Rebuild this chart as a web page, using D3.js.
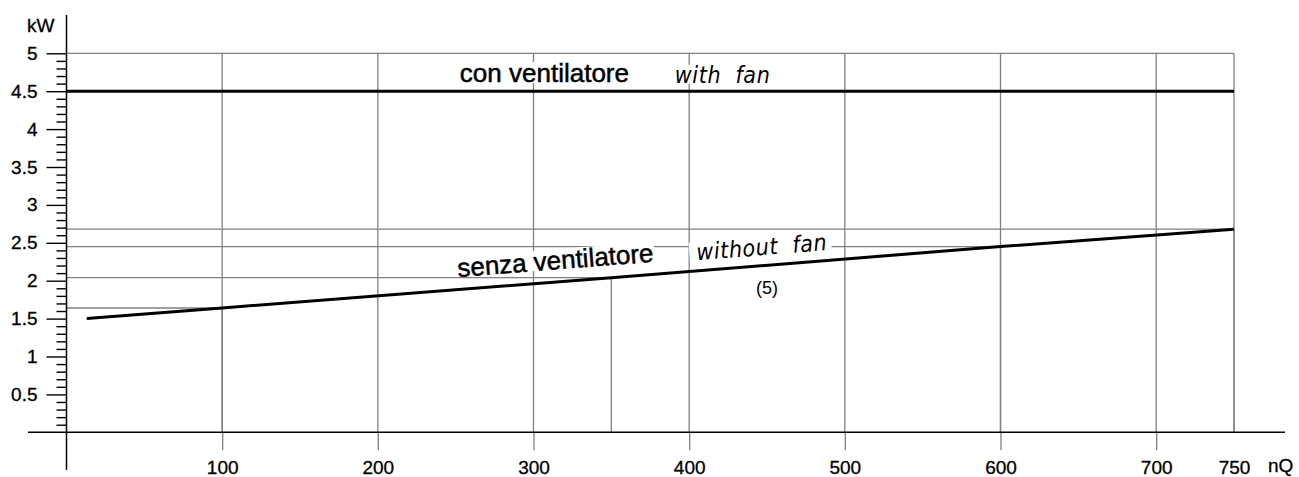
<!DOCTYPE html>
<html>
<head>
<meta charset="utf-8">
<script src="https://cdn.jsdelivr.net/npm/d3@7"></script>
<style>
  body { margin: 0; background: #fff; }
  svg { display: block; }
</style>
</head>
<body>
<script>
// tick labels
const xTicks = [100, 200, 300, 400, 500, 600, 700, 750];
const yTicks = [0.5, 1, 1.5, 2, 2.5, 3, 3.5, 4, 4.5, 5];

// series (nQ, kW)
const withFan = [[0, 4.5], [750, 4.5]];
const withoutFan = [[13, 1.5], [100, 1.64], [350, 2.04], [600, 2.45], [750, 2.68]];

// points of the "without fan" line that get reference lines
const refNQ = [100, 350, 600, 750];

const width = 1299, height = 477;
const sans = "'Liberation Sans', Arial, sans-serif";

const svg = d3.select("body").append("svg")
  .attr("width", width)
  .attr("height", height)
  .attr("font-family", sans);

const x = d3.scaleLinear().domain([0, 750]).range([66.5, 1234]);
const y = d3.scaleLinear().domain([0, 5]).range([432.3, 53.3]);

const grey = "#808080";

//Vertical grid lines
svg.append("g")
  .selectAll("line")
  .data(xTicks)
  .join("line")
    .attr("x1", d => x(d)).attr("x2", d => x(d))
    .attr("y1", y(5)).attr("y2", y(0))
    .attr("stroke", grey).attr("stroke-width", 1.3);

//Top horizontal grid line
svg.append("line")
  .attr("x1", x(0)).attr("x2", x(750))
  .attr("y1", y(5)).attr("y2", y(5))
  .attr("stroke", grey).attr("stroke-width", 1.3);

//Reference lines read off the "without fan" line
const refPts = refNQ.map(n => withoutFan.find(p => p[0] === n));
const refs = svg.append("g").attr("stroke", grey).attr("stroke-width", 1.3);
refs.selectAll("line.h")
  .data(refPts)
  .join("line")
    .attr("class", "h")
    .attr("x1", x(0)).attr("x2", d => x(d[0]))
    .attr("y1", d => y(d[1])).attr("y2", d => y(d[1]));
refs.selectAll("line.v")
  .data(refPts)
  .join("line")
    .attr("class", "v")
    .attr("x1", d => x(d[0])).attr("x2", d => x(d[0]))
    .attr("y1", d => y(d[1])).attr("y2", y(0));

//Y axis, major and minor ticks
const yAxis = svg.append("g")
  .attr("transform", "translate(" + x(0) + ",0)")
  .call(d3.axisLeft(y).tickValues(yTicks).tickSize(20).tickPadding(9).tickFormat(d3.format("~g")));
const yMinor = svg.append("g")
  .attr("transform", "translate(" + x(0) + ",0)")
  .call(d3.axisLeft(y)
    .tickValues(y.ticks(50).filter(v => v > 0 && v < 5 && !yTicks.includes(v)))
    .tickSize(10).tickFormat(""));
[yAxis, yMinor].forEach(g => {
  g.select(".domain").remove();
  g.selectAll("line").attr("stroke", "#000").attr("stroke-width", 1.4);
});

//X axis
const xAxis = svg.append("g")
  .attr("transform", "translate(0," + y(0) + ")")
  .call(d3.axisBottom(x).tickValues(xTicks).tickSize(18).tickPadding(10));
xAxis.select(".domain").remove();
xAxis.selectAll("line")
  .attr("stroke", grey).attr("stroke-width", 1.3)
  .attr("y2", d => d === 750 ? 0 : 18);

[yAxis, xAxis].forEach(g => g.selectAll("text")
  .attr("font-size", 19)
  .attr("font-family", sans)
  .attr("fill", "#000")
  .attr("stroke", "#000").attr("stroke-width", 0.3));

//Axis lines
svg.append("line")
  .attr("x1", x(0)).attr("x2", x(0))
  .attr("y1", 15).attr("y2", 470)
  .attr("stroke", "#000").attr("stroke-width", 1.5);
svg.append("line")
  .attr("x1", 28).attr("x2", 1285)
  .attr("y1", y(0)).attr("y2", y(0))
  .attr("stroke", "#000").attr("stroke-width", 1.5);

//Axis titles
svg.append("text")
  .attr("x", 27).attr("y", 32)
  .attr("font-size", 19)
  .attr("stroke", "#000").attr("stroke-width", 0.3)
  .text("kW");
svg.append("text")
  .attr("x", 1268).attr("y", 472)
  .attr("font-size", 19)
  .attr("stroke", "#000").attr("stroke-width", 0.3)
  .text("nQ");

//Data lines
const line = d3.line().x(d => x(d[0])).y(d => y(d[1]));
svg.append("path")
  .datum(withFan)
  .attr("d", line)
  .attr("fill", "none").attr("stroke", "#000").attr("stroke-width", 3);
svg.append("path")
  .datum(withoutFan)
  .attr("d", line)
  .attr("fill", "none").attr("stroke", "#000").attr("stroke-width", 3);

//Labels, on white patches that hide the grid behind them
const first = withoutFan[0], last = withoutFan[withoutFan.length - 1];
const slope = Math.atan2(y(last[1]) - y(first[1]), x(last[0]) - x(first[0])) * 180 / Math.PI;

const label = (txt, nq, kw, angle, style, pad) => {
  const g = svg.append("g")
    .attr("transform", "translate(" + x(nq) + "," + y(kw) + ") rotate(" + angle + ")");
  const bg = g.append("rect").attr("fill", "#fff");
  const t = g.append("text")
    .attr("xml:space", "preserve")
    .style("white-space", "pre")
    .text(txt);
  style(t);
  const b = t.node().getBBox();
  bg.attr("x", b.x - pad[0]).attr("y", b.y + pad[1])
    .attr("width", b.width + pad[0] + pad[2])
    .attr("height", b.height - pad[1] - pad[3]);
};

const plain = t => t.attr("font-size", 26).attr("fill", "#000")
  .attr("stroke", "#000").attr("stroke-width", 0.5);
const hand = t => t.attr("font-size", 23).attr("fill", "#000")
  .attr("font-family", "'DejaVu Sans Condensed', 'DejaVu Sans', sans-serif")
  .style("font-stretch", "condensed")
  .attr("font-style", "italic").attr("font-weight", 200)
  .attr("letter-spacing", 0.6);

label("con ventilatore", 252.7, 4.62, 0, plain, [1, 4, 1, 5]);
label("with  fan", 390.8, 4.61, 0, hand, [1, 3, 1, 4]);
label("senza ventilatore", 251.5, 2.05, slope, plain, [1, 4, 1, 6]);
label("without  fan", 405, 2.27, slope, hand, [7, 3, 4, 3]);

svg.append("text")
  .attr("x", x(450)).attr("y", y(1.82))
  .attr("text-anchor", "middle")
  .attr("font-size", 18)
  .text("(5)");
</script>
</body>
</html>
